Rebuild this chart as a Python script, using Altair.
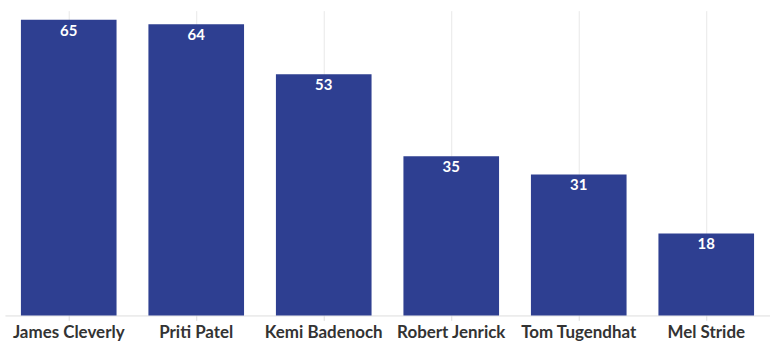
import altair as alt
import pandas as pd

names = ["James Cleverly", "Priti Patel", "Kemi Badenoch", "Robert Jenrick", "Tom Tugendhat", "Mel Stride"]
values = [65, 64, 53, 35, 31, 18]

df = pd.DataFrame({"name": names, "value": values})

x = alt.X("name:N", sort=names, title=None,
          scale=alt.Scale(paddingInner=0.25, paddingOuter=0.125),
          axis=alt.Axis(labelAngle=0, labelFont="Lato", labelFontSize=17, labelFontWeight="bold",
                        labelColor="#333333", domainColor="#dddddd", tickColor="#dddddd",
                        tickSize=5, labelPadding=4, grid=True, gridColor="#e8e8e8",
                        labelOverlap=False, labelLimit=0))
y = alt.Y("value:Q", scale=alt.Scale(domain=[0, 67], nice=False), axis=None)

bars = alt.Chart(df).mark_bar(color="#2e3f91").encode(x=x, y=y)
labels = alt.Chart(df).mark_text(color="white", font="Lato", fontSize=15, fontWeight="bold",
                                 baseline="alphabetic", dy=16).encode(x=x, y=y, text="value:Q")

chart = (bars + labels).properties(
    width=768, height=306,
    padding={"left": 5, "top": 10, "right": 0, "bottom": 26},
    autosize="none",
).configure_view(stroke=None)

chart.save("out.html", embed_options={"renderer": "svg", "actions": False})
